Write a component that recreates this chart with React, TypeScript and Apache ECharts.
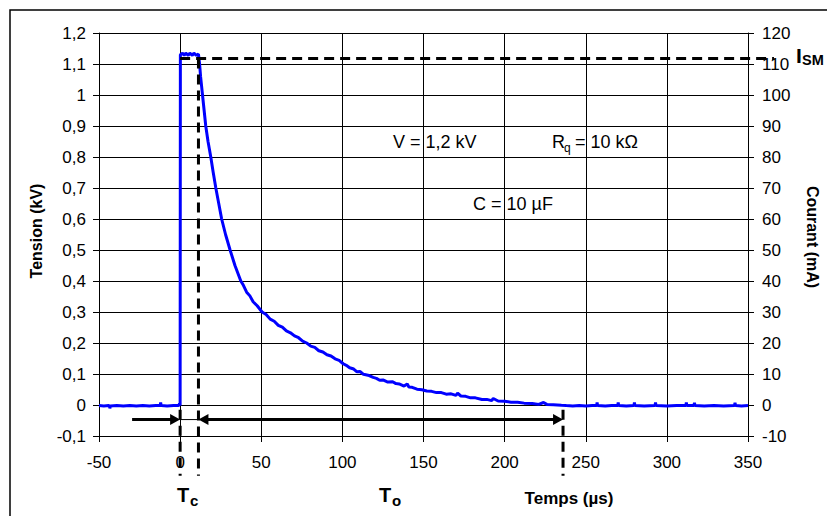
import React, { useEffect, useRef } from 'react';
import * as echarts from 'echarts';

// ---- axes ----
const TIME_MIN = -50;
const TIME_MAX = 350;
const TIME_STEP = 50;
const KV_MIN = -0.1;
const KV_MAX = 1.2;
const KV_STEP = 0.1;
const MA_MIN = -10;
const MA_MAX = 120;
const MA_STEP = 10;

// ---- measured trace: tension (kV) vs time (µs) ----
const preTrigger: [number, number][] = [
  [-50, -0.002], [-47, -0.003], [-44, -0.002], [-43.5, -0.003], [-43.3, -0.011], [-43, -0.003],
  [-39, -0.002], [-35, -0.003], [-31, -0.002], [-27, -0.003], [-23, -0.002], [-19, -0.003],
  [-15, -0.002], [-12.3, -0.002], [-12, 0.008], [-11.7, -0.002], [-8, -0.003], [-4, -0.002],
  [-1, -0.002], [-0.3, 0.004], [0, -0.002],
];

const pulseTop: [number, number][] = [
  [0.15, 1.13], [1.5, 1.135], [2.5, 1.128], [3.5, 1.135], [5, 1.128], [6, 1.135],
  [7.5, 1.128], [8.5, 1.135], [10, 1.128], [11.3, 1.132],
];

const decay: [number, number][] = [
  [12, 1.1], [12.6, 1.06], [13.2, 1.03], [13.8, 1.0], [14.8, 0.95], [15.8, 0.9], [17.2, 0.85],
  [18.9, 0.8], [20.4, 0.75], [22, 0.7], [23.8, 0.65], [25.6, 0.6], [28, 0.55], [30.8, 0.5],
  [33.8, 0.45], [37.4, 0.4], [39, 0.386], [41, 0.364], [43, 0.352], [45, 0.333], [47.5, 0.32],
  [50.5, 0.3], [53, 0.292], [55.5, 0.277], [58, 0.27], [60.5, 0.257], [63, 0.251], [65.5, 0.239],
  [68, 0.233], [70.5, 0.223], [73, 0.217], [75.5, 0.206], [78, 0.2], [80.5, 0.19], [83, 0.186],
  [85.5, 0.175], [88, 0.171], [90.5, 0.162], [93, 0.158], [95.5, 0.149], [98, 0.144],
  [100.5, 0.133], [103, 0.126], [104.5, 0.12], [107, 0.116], [109, 0.107], [111, 0.108],
  [113, 0.099], [116.5, 0.095], [119, 0.089], [121, 0.086], [123, 0.08], [125, 0.081],
  [128, 0.074], [131, 0.075], [133, 0.069], [135, 0.068], [138, 0.061], [140, 0.068],
  [141, 0.058], [143, 0.057], [146, 0.051], [149, 0.049], [152, 0.045], [155, 0.044],
  [158, 0.04], [161, 0.04], [164, 0.035], [167, 0.036], [170, 0.031], [171, 0.038],
  [173, 0.029], [176, 0.028], [179, 0.023], [182, 0.023], [186, 0.018], [189, 0.018],
  [192, 0.014], [193, 0.021], [196, 0.013], [200, 0.012], [204, 0.009], [208, 0.009],
  [212, 0.006], [217, 0.005], [221, 0.002], [224, 0.008], [226, 0.002], [230, 0.001],
  [235, -0.001],
];

const tail: [number, number][] = [
  [238, -0.002], [242, -0.003], [246, -0.002], [250, -0.003], [254, -0.002], [256.7, -0.002],
  [257, 0.008], [257.3, -0.002], [262, -0.003], [266, -0.002], [269.7, -0.002], [270, 0.008],
  [270.3, -0.002], [275, -0.003], [279.7, -0.002], [280, 0.008], [280.3, -0.002], [286, -0.003],
  [292.7, -0.002], [293, 0.008], [293.3, -0.002], [300, -0.003], [306, -0.002], [311.7, -0.002],
  [312, 0.008], [312.3, -0.002], [316.7, -0.002], [317, 0.007], [317.3, -0.002], [323, -0.003],
  [329, -0.002], [335, -0.003], [341.7, -0.002], [342, 0.007], [342.3, -0.002], [346, -0.003],
  [350, -0.002],
];

// ---- annotations (data coordinates) ----
const I_SM_KV = 1.118; // dashed plateau level
const T_C_END = 11.3; // end of the plateau (µs)
const T_O_END = 236; // end of the decay (µs)
const ARROW_LEVEL = -0.047;
const ARROW_START = -29.6;
const DASH_TOP = -0.015;
const DASH_BOTTOM = -0.228;
const ISM_LINE_END = 366;

const fmtKv = (v: number) => String(Number(v.toFixed(1))).replace('.', ',');

export default function App() {
  const ref = useRef<HTMLDivElement>(null);

  useEffect(() => {
    if (!ref.current) return;
    const chart = echarts.init(ref.current, null, { renderer: 'svg' });
    const font = '"Liberation Sans", Arial, sans-serif';
    const axisLine = { show: true, onZero: false, lineStyle: { color: '#000', width: 1 } };

    chart.setOption({
      animation: false,
      textStyle: { fontFamily: font },
      grid: { left: 99, right: 79, top: 33, bottom: 80, containLabel: false },
      xAxis: {
        type: 'value',
        min: TIME_MIN,
        max: TIME_MAX,
        interval: TIME_STEP,
        axisLine,
        axisTick: { show: true, length: 6, lineStyle: { color: '#000' } },
        axisLabel: { fontSize: 17, color: '#000', margin: 18, fontFamily: font },
        splitLine: { show: true, lineStyle: { color: '#000', width: 1 } },
      },
      yAxis: [
        {
          type: 'value',
          position: 'left',
          min: KV_MIN,
          max: KV_MAX,
          interval: KV_STEP,
          axisLine,
          axisTick: { show: true, length: 6, lineStyle: { color: '#000' } },
          axisLabel: { fontSize: 17, color: '#000', margin: 13, formatter: fmtKv, fontFamily: font },
          splitLine: { show: true, lineStyle: { color: '#000', width: 1 } },
        },
        {
          type: 'value',
          position: 'right',
          min: MA_MIN,
          max: MA_MAX,
          interval: MA_STEP,
          axisLine,
          axisTick: { show: true, length: 6, lineStyle: { color: '#000' } },
          axisLabel: { fontSize: 17, color: '#000', margin: 14, fontFamily: font },
          splitLine: { show: false },
        },
      ],
      series: [
        {
          type: 'line',
          yAxisIndex: 0,
          symbol: 'none',
          data: [...preTrigger, ...pulseTop, ...decay, ...tail],
          lineStyle: { color: '#0000ff', width: 3 },
          z: 3,
        },
      ],
    });

    const p = (t: number, v: number) => chart.convertToPixel({ gridIndex: 0 }, [t, v]) as number[];

    const ism0 = p(0, I_SM_KV);
    const ismEnd = p(ISM_LINE_END, I_SM_KV);
    const tcTop = p(T_C_END, I_SM_KV);
    const tcBot = p(T_C_END, DASH_BOTTOM);
    const t0Top = p(0, DASH_TOP);
    const t0Bot = p(0, DASH_BOTTOM);
    const toTop = p(T_O_END, DASH_TOP);
    const toBot = p(T_O_END, DASH_BOTTOM);
    const aStart = p(ARROW_START, ARROW_LEVEL);
    const a0 = p(0, ARROW_LEVEL);
    const aTc = p(T_C_END, ARROW_LEVEL);
    const aTo = p(T_O_END, ARROW_LEVEL);

    const dash = { stroke: '#000', lineWidth: 3, lineDash: [10, 6] };
    const solid = { stroke: '#000', lineWidth: 3 };
    const head = (x: number, y: number, dir: number) => ({
      type: 'polygon',
      shape: { points: [[x, y], [x - dir * 10, y - 5.5], [x - dir * 10, y + 5.5]] },
      style: { fill: '#000' },
      z: 10,
    });
    const txt = (x: number, y: number, text: string, size: number, bold: boolean, extra: any = {}) => ({
      type: 'text',
      x,
      y,
      style: {
        text,
        fontSize: size,
        fontWeight: bold ? 'bold' : 'normal',
        fontFamily: font,
        fill: '#000',
        align: 'left',
        verticalAlign: 'middle',
        ...extra,
      },
      z: 10,
    });

    chart.setOption({
      graphic: [
        { type: 'rect', shape: { x: 10, y: 10, width: 1000, height: 1000 }, style: { fill: 'none', stroke: '#000', lineWidth: 1.5 }, z: 10 },
        { type: 'line', shape: { x1: ism0[0], y1: ism0[1], x2: ismEnd[0], y2: ismEnd[1] }, style: dash, z: 10 },
        { type: 'line', shape: { x1: tcTop[0], y1: tcTop[1], x2: tcBot[0], y2: tcBot[1] }, style: dash, z: 10 },
        { type: 'line', shape: { x1: t0Top[0], y1: t0Top[1], x2: t0Bot[0], y2: t0Bot[1] }, style: dash, z: 10 },
        { type: 'line', shape: { x1: toTop[0], y1: toTop[1], x2: toBot[0], y2: toBot[1] }, style: dash, z: 10 },
        { type: 'line', shape: { x1: aStart[0], y1: aStart[1], x2: a0[0] - 8, y2: a0[1] }, style: solid, z: 10 },
        head(a0[0], a0[1], 1),
        { type: 'line', shape: { x1: a0[0], y1: a0[1], x2: aTc[0], y2: aTc[1] }, style: { stroke: '#000', lineWidth: 1 }, z: 10 },
        { type: 'line', shape: { x1: aTc[0] + 8, y1: aTc[1], x2: aTo[0] - 8, y2: aTo[1] }, style: solid, z: 10 },
        head(aTc[0], aTc[1], -1),
        head(aTo[0], aTo[1], 1),
        // annotations
        txt(393, 142, 'V = 1,2 kV', 18, false),
        txt(552, 142, 'R', 18, false),
        txt(564, 148, 'q', 12, false),
        txt(575, 142, '= 10 kΩ', 18, false),
        txt(473, 204, 'C = 10 µF', 18, false),
        txt(796, 55, 'I', 21, true),
        txt(802, 59.5, 'SM', 14.5, true),
        txt(177, 495, 'T', 20, true),
        txt(190, 500, 'c', 15, true),
        txt(379, 495, 'T', 20, true),
        txt(392, 500, 'o', 15, true),
        txt(569, 498, 'Temps (µs)', 17, true, { align: 'center' }),
        { ...txt(36, 231, 'Tension (kV)', 16, true, { align: 'center' }), rotation: Math.PI / 2 },
        { ...txt(812, 237, 'Courant (mA)', 16, true, { align: 'center' }), rotation: -Math.PI / 2 },
      ],
    });

    return () => chart.dispose();
  }, []);

  return (
    <div
      ref={ref}
      style={{ position: 'fixed', left: 0, top: 0, width: 827, height: 516, background: '#fff' }}
    />
  );
}
